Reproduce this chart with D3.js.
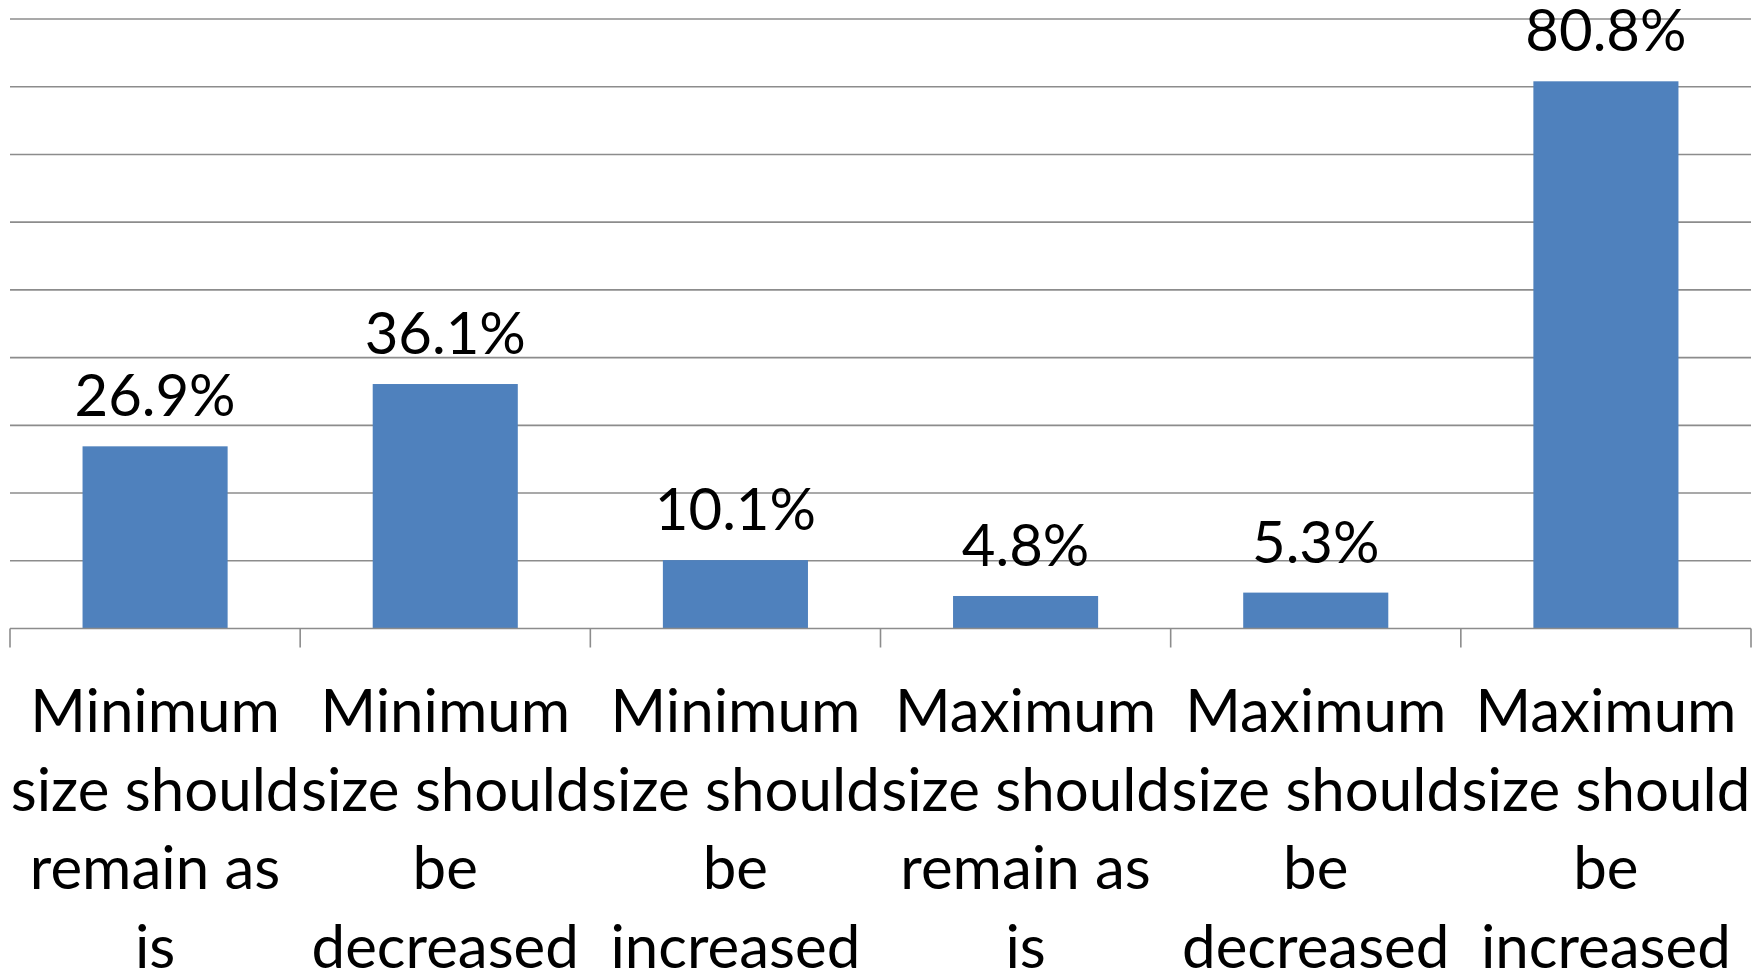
<!DOCTYPE html>
<html>
<head>
<meta charset="utf-8">
<script src="https://cdn.jsdelivr.net/npm/d3@7"></script>
<style>
  html, body { margin: 0; padding: 0; background: #fff; }
  svg { display: block; }
</style>
</head>
<body>
<svg id="chart" width="1760" height="969"></svg>
<script>
// data
const categories = [
  "Minimum size should remain as is",
  "Minimum size should be decreased",
  "Minimum size should be increased",
  "Maximum size should remain as is",
  "Maximum size should be decreased",
  "Maximum size should be increased"
];
const categoryLines = [
  ["Minimum", "size should", "remain as", "is"],
  ["Minimum", "size should", "be", "decreased"],
  ["Minimum", "size should", "be", "increased"],
  ["Maximum", "size should", "remain as", "is"],
  ["Maximum", "size should", "be", "decreased"],
  ["Maximum", "size should", "be", "increased"]
];
const values = [26.9, 36.1, 10.1, 4.8, 5.3, 80.8];
const yTicks = [0, 10, 20, 30, 40, 50, 60, 70, 80, 90];

const svg = d3.select("#chart");
const width = +svg.attr("width");
const height = +svg.attr("height");
const margin = { top: 19, right: 9, bottom: 340.5, left: 10 };
const font = "Lato, 'Open Sans', sans-serif";

const x = d3.scaleBand()
  .domain(categories)
  .range([margin.left, width - margin.right])
  .paddingInner(0.5)
  .paddingOuter(0.25);

const y = d3.scaleLinear()
  .domain([0, 90])
  .range([height - margin.bottom, margin.top]);

// gridlines
svg.append("g")
  .selectAll("line")
  .data(yTicks.slice(1))
  .enter()
  .append("line")
  .attr("x1", margin.left)
  .attr("x2", width - margin.right)
  .attr("y1", d => y(d))
  .attr("y2", d => y(d))
  .attr("stroke", "#8c8c8c")
  .attr("stroke-width", 1.6);

// bars
svg.append("g")
  .selectAll("rect")
  .data(values)
  .enter()
  .append("rect")
  .attr("x", (d, i) => x(categories[i]))
  .attr("y", d => y(d))
  .attr("width", x.bandwidth())
  .attr("height", d => y(0) - y(d))
  .attr("fill", "#4f81bd");

// value labels
svg.append("g")
  .selectAll("text")
  .data(values)
  .enter()
  .append("text")
  .attr("x", (d, i) => x(categories[i]) + x.bandwidth() / 2)
  .attr("y", d => y(d) - 30)
  .attr("text-anchor", "middle")
  .style("font-family", font)
  .style("font-size", "58px")
  .attr("fill", "#000")
  .text(d => d.toFixed(1) + "%");

// x axis: baseline + ticks between categories
const axis = svg.append("g");
axis.append("line")
  .attr("x1", margin.left)
  .attr("x2", width - margin.right)
  .attr("y1", y(0))
  .attr("y2", y(0))
  .attr("stroke", "#8c8c8c")
  .attr("stroke-width", 1.6);

const step = x.step();
const tickPos = d3.range(categories.length + 1).map(i => margin.left + i * step);
axis.selectAll(".tick")
  .data(tickPos)
  .enter()
  .append("line")
  .attr("class", "tick")
  .attr("x1", d => d)
  .attr("x2", d => d)
  .attr("y1", y(0))
  .attr("y2", y(0) + 19)
  .attr("stroke", "#8c8c8c")
  .attr("stroke-width", 1.6);

// category labels (wrapped)
const labels = axis.selectAll(".cat")
  .data(categoryLines)
  .enter()
  .append("text")
  .attr("class", "cat")
  .attr("text-anchor", "middle")
  .style("font-family", font)
  .style("font-size", "60px")
  .attr("fill", "#000");

labels.each(function(lines, i) {
  const t = d3.select(this);
  const cx = x(categories[i]) + x.bandwidth() / 2;
  lines.forEach((s, j) => {
    t.append("tspan")
      .attr("x", cx)
      .attr("y", 732 + j * 78.5)
      .text(s);
  });
});
</script>
</body>
</html>
